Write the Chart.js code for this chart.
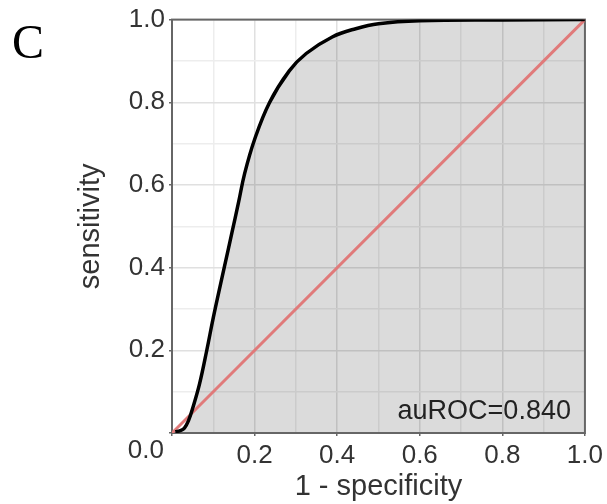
<!DOCTYPE html>
<html>
<head>
<meta charset="UTF-8">
<title>ROC</title>
<script src="https://cdn.jsdelivr.net/npm/chart.js"></script>
<style>
    html, body { margin: 0; padding: 0; background: #fff; }
    #box { width: 607px; height: 504px; }
</style>
</head>
<body>
<div id="box"><canvas id="grafico"></canvas></div>

<script>
    // curva ROC
    const fpr = [0.008, 0.02, 0.03, 0.04, 0.051, 0.067, 0.084, 0.1, 0.118, 0.136, 0.145, 0.161, 0.176, 0.2, 0.236, 0.284, 0.325, 0.388, 0.445, 0.5, 0.6, 0.8, 1.0];
    const tpr = [0.003, 0.006, 0.012, 0.03, 0.063, 0.12, 0.199, 0.279, 0.362, 0.443, 0.484, 0.557, 0.628, 0.71, 0.799, 0.876, 0.918, 0.958, 0.978, 0.99, 0.997, 0.999, 1.0];
    const diagX = [0, 1];
    const diagY = [0, 1];
    const auc = '0.840';

    const fonte = 'Liberation Sans, Arial, sans-serif';

    function isMajor(v) {
        return Math.round(v * 10) % 2 === 0;
    }

    const textos = {
        id: 'textos',
        beforeDatasetsDraw(chart) {
            const a = chart.chartArea;
            const ctx = chart.ctx;
            ctx.save();
            ctx.strokeStyle = '#666';
            ctx.lineWidth = 2;
            ctx.strokeRect(a.left, a.top, a.right - a.left, a.bottom - a.top);
            ctx.restore();
        },
        afterDraw(chart) {
            const a = chart.chartArea;
            const ctx = chart.ctx;
            ctx.save();
            ctx.fillStyle = '#000';
            ctx.font = '48px "Liberation Serif", "Times New Roman", serif';
            ctx.textAlign = 'left';
            ctx.textBaseline = 'alphabetic';
            ctx.fillText('C', 12, 58);

            ctx.fillStyle = '#333';
            ctx.font = '26px ' + fonte;
            ctx.textAlign = 'right';
            ctx.textBaseline = 'middle';
            ctx.fillText('0.0', a.left - 8, a.bottom + 18);

            ctx.fillStyle = '#222';
            ctx.font = '27px ' + fonte;
            ctx.fillText('auROC=' + auc, a.right - 14, a.bottom - 21);
            ctx.restore();
        }
    };

    const eixo = {
        type: 'linear',
        min: 0,
        max: 1,
        border: { display: false },
        grid: {
            color: (c) => isMajor(c.tick.value) ? '#e0e0e0' : '#ededed',
            tickColor: (c) => isMajor(c.tick.value) ? '#666' : 'rgba(0,0,0,0)',
            tickLength: 3,
            lineWidth: 1.5
        },
        ticks: {
            stepSize: 0.1,
            autoSkip: false,
            maxRotation: 0,
            padding: 4,
            color: '#333',
            font: { family: fonte, size: 26 },
            callback: (v) => (isMajor(v) && Math.abs(v) > 1e-9) ? v.toFixed(1) : ''
        }
    };

    const config = {
        type: 'scatter',
        data: {
            datasets: [{
                label: 'ROC',
                data: fpr.map((x, i) => ({ x: x, y: tpr[i] })),
                showLine: true,
                borderColor: '#000',
                borderWidth: 3.5,
                pointRadius: 0,
                tension: 0.4,
                fill: 'origin',
                backgroundColor: 'rgba(0,0,0,0.14)',
                order: 0
            }, {
                label: 'acaso',
                data: diagX.map((x, i) => ({ x: x, y: diagY[i] })),
                showLine: true,
                borderColor: '#e07a7a',
                borderWidth: 3,
                pointRadius: 0,
                fill: false,
                order: 1
            }]
        },
        options: {
            responsive: true,
            maintainAspectRatio: false,
            animation: false,
            layout: { padding: { left: 70, top: 16, right: 20, bottom: 0 } },
            plugins: {
                legend: { display: false },
                tooltip: { enabled: false },
                filler: { drawTime: 'beforeDatasetsDraw' }
            },
            elements: { line: { capBezierPoints: true } },
            scales: {
                x: {
                    ...eixo,
                    title: {
                        display: true,
                        text: '1 - specificity',
                        color: '#333',
                        font: { family: fonte, size: 29 },
                        padding: { top: 0, bottom: 0 }
                    },
                    afterFit: (s) => { s.height = 71; }
                },
                y: {
                    ...eixo,
                    title: {
                        display: true,
                        text: 'sensitivity',
                        color: '#333',
                        font: { family: fonte, size: 29 },
                        padding: { top: 4, bottom: 0 }
                    },
                    afterFit: (s) => { s.width = 102; }
                }
            }
        },
        plugins: [textos]
    };

    new Chart(document.getElementById('grafico'), config);
</script>
</body>
</html>
